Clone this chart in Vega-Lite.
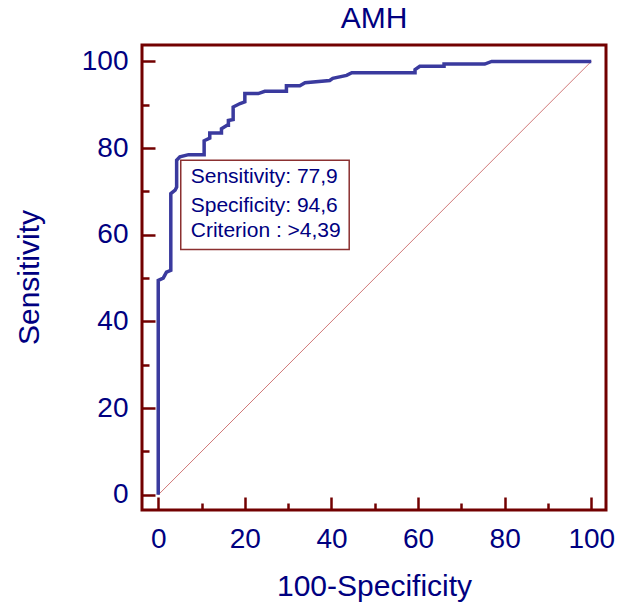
{
  "$schema": "https://vega.github.io/schema/vega-lite/v6.json",
  "width": 464,
  "height": 465,
  "autosize": {"type": "none"},
  "padding": {"left": 142, "top": 45, "right": 11, "bottom": 97},
  "background": "white",
  "title": {"text": "AMH", "font": "Liberation Sans", "fontSize": 30, "fontWeight": "normal", "color": "#000080", "anchor": "middle", "offset": 11},
  "config": {"view": {"stroke": "#720000", "strokeWidth": 3}, "font": "Liberation Sans"},
  "datasets": {
    "diag": [{"x": 0, "y": 0}, {"x": 100, "y": 100}],
    "roc": [
      {"i": 1, "x": 0, "y": 0},
      {"i": 2, "x": 0, "y": 49.5},
      {"i": 3, "x": 1.15, "y": 50.0},
      {"i": 4, "x": 1.9, "y": 51.4},
      {"i": 5, "x": 2.9, "y": 51.8},
      {"i": 6, "x": 2.9, "y": 69.5},
      {"i": 7, "x": 3.9, "y": 70.3},
      {"i": 8, "x": 4.25, "y": 71.0},
      {"i": 9, "x": 4.25, "y": 77.2},
      {"i": 10, "x": 5.0, "y": 78.0},
      {"i": 11, "x": 7.0, "y": 78.5},
      {"i": 12, "x": 10.6, "y": 78.5},
      {"i": 13, "x": 10.6, "y": 81.7},
      {"i": 14, "x": 11.9, "y": 82.3},
      {"i": 15, "x": 11.9, "y": 83.5},
      {"i": 16, "x": 14.6, "y": 83.5},
      {"i": 17, "x": 14.6, "y": 84.5},
      {"i": 18, "x": 15.9, "y": 85.3},
      {"i": 19, "x": 16.2, "y": 85.3},
      {"i": 20, "x": 16.2, "y": 86.4},
      {"i": 21, "x": 17.3, "y": 86.6},
      {"i": 22, "x": 17.3, "y": 89.5},
      {"i": 23, "x": 18.9, "y": 90.3},
      {"i": 24, "x": 20.0, "y": 90.7},
      {"i": 25, "x": 20.0, "y": 92.6},
      {"i": 26, "x": 23.1, "y": 92.6},
      {"i": 27, "x": 24.6, "y": 93.1},
      {"i": 28, "x": 29.6, "y": 93.1},
      {"i": 29, "x": 29.6, "y": 94.4},
      {"i": 30, "x": 32.7, "y": 94.4},
      {"i": 31, "x": 33.9, "y": 95.1},
      {"i": 32, "x": 39.6, "y": 95.6},
      {"i": 33, "x": 40.3, "y": 96.1},
      {"i": 34, "x": 43.5, "y": 96.8},
      {"i": 35, "x": 44.7, "y": 97.4},
      {"i": 36, "x": 59.3, "y": 97.4},
      {"i": 37, "x": 59.3, "y": 98.1},
      {"i": 38, "x": 60.4, "y": 98.9},
      {"i": 39, "x": 66.0, "y": 98.9},
      {"i": 40, "x": 66.0, "y": 99.4},
      {"i": 41, "x": 75.4, "y": 99.4},
      {"i": 42, "x": 77.0, "y": 100},
      {"i": 43, "x": 100, "y": 100}
    ],
    "box": [{"x1": 5.2, "x2": 44.1, "y1": 56.6, "y2": 77.2}],
    "notes": [
      {"label": "Sensitivity: 77,9", "x": 7.5, "y": 71.9},
      {"label": "Specificity: 94,6", "x": 7.5, "y": 65.3},
      {"label": "Criterion : >4,39", "x": 7.5, "y": 59.4}
    ]
  },
  "layer": [
    {
      "data": {"name": "diag"},
      "mark": {"type": "line", "color": "#d07878", "strokeWidth": 1},
      "encoding": {
        "x": {
          "field": "x", "type": "quantitative",
          "scale": {"domain": [-3.75, 103.4], "nice": false, "zero": false},
          "axis": {
            "values": [0,5,10,15,20,25,30,35,40,45,50,55,60,65,70,75,80,85,90,95,100],
            "labelExpr": "datum.value % 20 === 0 ? datum.label : ''",
            "tickSize": {"condition": {"test": "datum.value % 20 === 0", "value": -13}, "value": -7},
            "tickColor": "#720000", "tickWidth": 2.5,
            "domain": false, "grid": false,
            "labelFont": "Liberation Sans", "labelFontSize": 28, "labelColor": "#000080",
            "labelPadding": 28, "labelFlush": false, "labelOverlap": false,
            "title": "100-Specificity", "titleFont": "Liberation Sans", "titleFontSize": 30,
            "titleFontWeight": "normal", "titleColor": "#000080",
            "titleX": 232, "titleY": 85, "titleBaseline": "alphabetic", "titleAnchor": "middle"
          }
        },
        "y": {
          "field": "y", "type": "quantitative",
          "scale": {"domain": [-3.5, 103.8], "nice": false, "zero": false},
          "axis": {
            "values": [0,5,10,15,20,25,30,35,40,45,50,55,60,65,70,75,80,85,90,95,100],
            "labelExpr": "datum.value % 20 === 0 ? datum.label : ''",
            "tickSize": {"condition": {"test": "datum.value % 20 === 0", "value": -13}, "value": -7},
            "tickColor": "#720000", "tickWidth": 2.5,
            "domain": false, "grid": false,
            "labelFont": "Liberation Sans", "labelFontSize": 28, "labelColor": "#000080",
            "labelPadding": 27, "labelFlush": false, "labelOverlap": false,
            "title": "Sensitivity", "titleFont": "Liberation Sans", "titleFontSize": 30,
            "titleFontWeight": "normal", "titleColor": "#000080",
            "titleAngle": -90, "titleX": -104, "titleY": 232, "titleBaseline": "alphabetic", "titleAnchor": "middle"
          }
        }
      }
    },
    {
      "data": {"name": "roc"},
      "mark": {"type": "line", "color": "#3a3a9e", "strokeWidth": 3.5},
      "encoding": {
        "x": {"field": "x", "type": "quantitative"},
        "y": {"field": "y", "type": "quantitative"},
        "order": {"field": "i", "type": "quantitative"}
      }
    },
    {
      "data": {"name": "box"},
      "mark": {"type": "rect", "fill": "white", "stroke": "#8b3030", "strokeWidth": 1.5},
      "encoding": {
        "x": {"field": "x1", "type": "quantitative"},
        "x2": {"field": "x2"},
        "y": {"field": "y1", "type": "quantitative"},
        "y2": {"field": "y2"}
      }
    },
    {
      "data": {"name": "notes"},
      "mark": {"type": "text", "align": "left", "baseline": "alphabetic", "fontSize": 21, "font": "Liberation Sans", "color": "#000080"},
      "encoding": {
        "x": {"field": "x", "type": "quantitative"},
        "y": {"field": "y", "type": "quantitative"},
        "text": {"field": "label"}
      }
    }
  ]
}
